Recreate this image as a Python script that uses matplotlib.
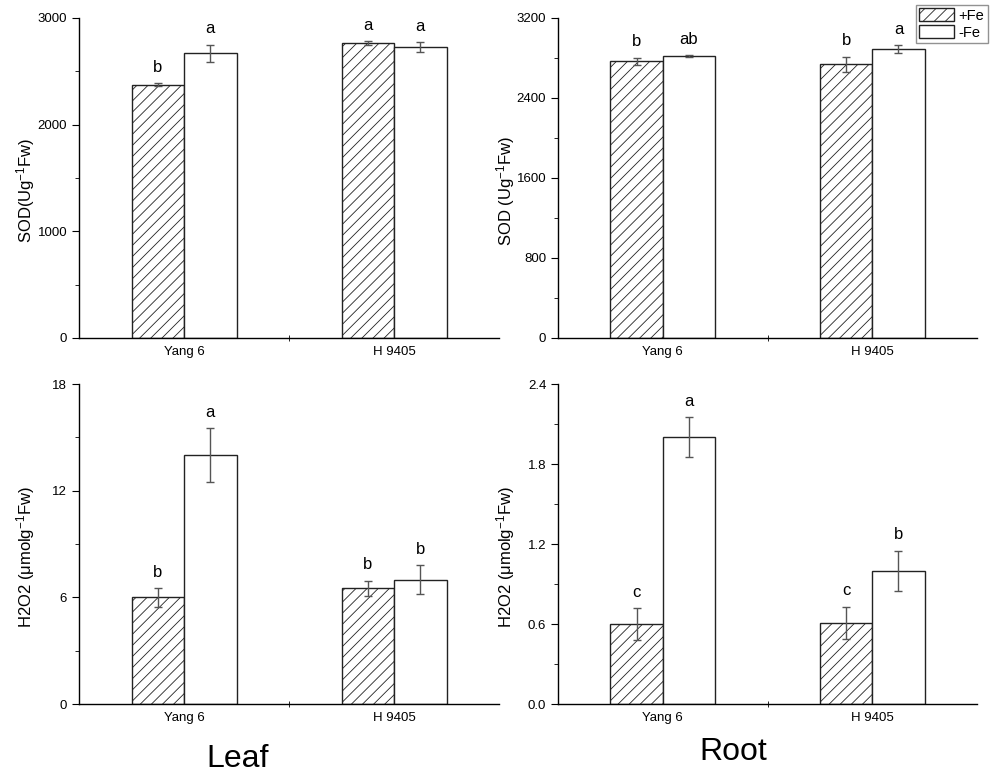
import matplotlib
matplotlib.use("Agg")
import matplotlib.pyplot as plt
from matplotlib.patches import Patch
from matplotlib.ticker import MultipleLocator
import numpy as np

# data
cultivars = ["Yang 6", "H 9405"]

sod_leaf_fe = [2375, 2766]
sod_leaf_fe_err = [15, 15]
sod_leaf_nofe = [2669, 2725]
sod_leaf_nofe_err = [80, 47]
sod_leaf_letters = [["b", "a"], ["a", "a"]]

sod_root_fe = [2767, 2737]
sod_root_fe_err = [37, 77]
sod_root_nofe = [2817, 2887]
sod_root_nofe_err = [12, 38]
sod_root_letters = [["b", "ab"], ["b", "a"]]

h2o2_leaf_fe = [6.0, 6.5]
h2o2_leaf_fe_err = [0.53, 0.43]
h2o2_leaf_nofe = [14.0, 7.0]
h2o2_leaf_nofe_err = [1.5, 0.81]
h2o2_leaf_letters = [["b", "a"], ["b", "b"]]

h2o2_root_fe = [0.60, 0.61]
h2o2_root_fe_err = [0.12, 0.12]
h2o2_root_nofe = [2.0, 1.0]
h2o2_root_nofe_err = [0.15, 0.15]
h2o2_root_letters = [["c", "a"], ["c", "b"]]

plt.rcParams['font.family'] = ['Liberation Sans', 'DejaVu Sans']
plt.rcParams['mathtext.default'] = 'regular'
plt.rcParams['hatch.linewidth'] = 0.6

fig = plt.figure(figsize=(10, 7.75), dpi=100)

w = 0.25
x = np.array([0.5, 1.5])


def panel(rect, fe, fe_err, nofe, nofe_err, letters, ymax, major, ylabel, labelx):
    ax = fig.add_axes(rect)
    ax.bar(x - w / 2, fe, w, facecolor='white', edgecolor='#222222', hatch='///', linewidth=1.0)
    ax.bar(x + w / 2, nofe, w, facecolor='white', edgecolor='#222222', linewidth=1.0)
    ax.errorbar(x - w / 2, fe, yerr=fe_err, fmt='none', ecolor='#555555', capsize=3, elinewidth=1)
    ax.errorbar(x + w / 2, nofe, yerr=nofe_err, fmt='none', ecolor='#555555', capsize=3, elinewidth=1)
    for i in range(2):
        for j, (xx, v, e) in enumerate([(x[i] - w / 2, fe[i], fe_err[i]),
                                        (x[i] + w / 2, nofe[i], nofe_err[i])]):
            ax.annotate(letters[i][j], (xx, v + e), xytext=(0, 6), textcoords='offset points',
                        ha='center', va='bottom', fontsize=12)
    ax.set_xlim(0, 2)
    ax.set_ylim(0, ymax)
    ax.set_xticks(x, cultivars)
    ax.set_xticks([1.0], minor=True)
    ax.tick_params(axis='x', which='major', length=0, labelsize=9.5, pad=6)
    ax.tick_params(axis='x', which='minor', length=4, direction='inout')
    ax.yaxis.set_major_locator(MultipleLocator(major))
    ax.yaxis.set_minor_locator(MultipleLocator(major / 2))
    ax.tick_params(axis='y', which='major', length=5, labelsize=9.5)
    ax.tick_params(axis='y', which='minor', length=3)
    for s in ['top', 'right']:
        ax.spines[s].set_visible(False)
    for s in ['left', 'bottom']:
        ax.spines[s].set_linewidth(1.0)
    ax.set_ylabel(ylabel, fontsize=12)
    ax.yaxis.set_label_coords(labelx, 0.46)
    return ax


panel([0.079, 0.5639, 0.42, 0.4129], sod_leaf_fe, sod_leaf_fe_err, sod_leaf_nofe,
      sod_leaf_nofe_err, sod_leaf_letters, 3000, 1000, r'SOD(Ug$^{-1}$Fw)', -0.10)
panel([0.558, 0.5639, 0.419, 0.4129], sod_root_fe, sod_root_fe_err, sod_root_nofe,
      sod_root_nofe_err, sod_root_letters, 3200, 800, r'SOD (Ug$^{-1}$Fw)', -0.098)
panel([0.079, 0.0916, 0.42, 0.4129], h2o2_leaf_fe, h2o2_leaf_fe_err, h2o2_leaf_nofe,
      h2o2_leaf_nofe_err, h2o2_leaf_letters, 18, 6, r'H2O2 ($\mu$molg$^{-1}$Fw)', -0.10)
panel([0.558, 0.0916, 0.419, 0.4129], h2o2_root_fe, h2o2_root_fe_err, h2o2_root_nofe,
      h2o2_root_nofe_err, h2o2_root_letters, 2.4, 0.6, r'H2O2 ($\mu$molg$^{-1}$Fw)', -0.098)

handles = [Patch(facecolor='white', edgecolor='#222222', hatch='///', label='+Fe'),
           Patch(facecolor='white', edgecolor='#222222', label='-Fe')]
leg = fig.legend(handles=handles, loc='upper right', bbox_to_anchor=(0.988, 0.994),
                 fontsize=10.5, frameon=True, fancybox=False, edgecolor='#777777',
                 handlelength=2.4, handleheight=1.0, handletextpad=0.3,
                 borderpad=0.25, labelspacing=0.15, borderaxespad=0)
leg.get_frame().set_linewidth(1.0)

fig.text(0.238, 0.0103, "Leaf", fontsize=23, ha='center', va='baseline')
fig.text(0.733, 0.0194, "Root", fontsize=23, ha='center', va='baseline')

fig.savefig("out.png", dpi=100)
